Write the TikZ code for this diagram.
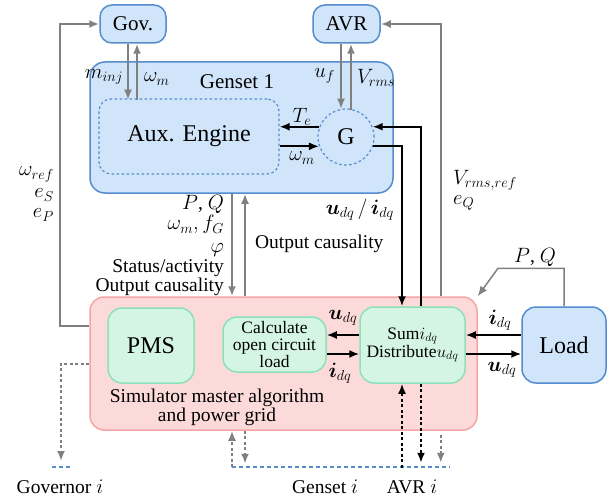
\documentclass[tikz,border=0pt]{standalone}
\usepackage{amsmath}
\usepackage{fontspec}
\setmainfont{Liberation Serif}
\usetikzlibrary{arrows.meta,calc}

\definecolor{genfill}{RGB}{208,228,250}
\definecolor{genedge}{RGB}{85,140,205}
\definecolor{simfill}{RGB}{253,218,218}
\definecolor{simedge}{RGB}{245,165,165}
\definecolor{algfill}{RGB}{212,245,228}
\definecolor{algedge}{RGB}{140,225,185}
\definecolor{sigray}{RGB}{128,128,128}

\newcommand{\bigfnt}{\fontsize{24}{26}\selectfont}
\newcommand{\boxfnt}{\fontsize{21}{23}\selectfont}
\newcommand{\lblfnt}{\fontsize{19.5}{19}\selectfont}
\newcommand{\stkfnt}{\fontsize{19.5}{19}\selectfont}
\newcommand{\smlfnt}{\fontsize{17.5}{17}\selectfont}

\tikzset{every picture/.style={line width=1.5pt}}
\tikzset{
  genbox/.style={draw=genedge, fill=genfill, rounded corners=12pt, inner sep=0pt},
  simbox/.style={draw=simedge, fill=simfill, rounded corners=14pt, inner sep=0pt},
  algbox/.style={draw=algedge, fill=algfill, rounded corners=12pt, inner sep=0pt, align=center},
  subpart/.style={draw=genedge, line width=1.2pt, dash pattern=on 2.5pt off 2.5pt, inner sep=0pt},
  grayarrow/.style={draw=sigray, line width=2pt, -{Latex[length=10pt,width=8pt]}},
  blackarrow/.style={draw=black, line width=1.8pt, -{Latex[length=10pt,width=8pt]}},
  graydots/.style={grayarrow, dash pattern=on 3pt off 2.5pt},
  blackdots/.style={blackarrow, dash pattern=on 3pt off 2.5pt},
  fmuline/.style={draw=genedge, line width=1.2pt, dash pattern=on 4pt off 3pt}
}

\begin{document}
\begin{tikzpicture}[x=1pt,y=1pt,yscale=-1,xscale=1]
	\useasboundingbox (0,0) rectangle (612,500);

	%Shape: Rounded Rect [Genset 1]
	\node[genbox, rounded corners=15pt, minimum width=303pt, minimum height=131pt] (genset) at (241.5,127.5) {};
	%Shape: Rounded Rect [Simulator]
	\node[simbox, minimum width=387pt, minimum height=133pt] (pink) at (283.5,363.5) {};
	%Shape: Rounded Rect [Gov.]
	\node[genbox, minimum width=66pt, minimum height=38pt, font=\boxfnt] (gov) at (133,24) {Gov.};
	%Shape: Rounded Rect [AVR]
	\node[genbox, minimum width=67pt, minimum height=38pt, font=\boxfnt] (avr) at (346.5,24) {AVR};
	%Shape: Rounded Rect [Aux. Engine]
	\node[subpart, rounded corners=12pt, minimum width=180pt, minimum height=75pt, font=\bigfnt] (aux) at (189,136.5) {Aux. Engine};
	%Shape: Circle [G]
	\node[subpart, circle, minimum size=56pt, font=\bigfnt] (g) at (346,137) {G};
	%Shape: Rounded Rect [PMS]
	\node[algbox, rounded corners=14pt, minimum width=86pt, minimum height=75pt, font=\bigfnt] (pms) at (151,345.5) {PMS};
	%Shape: Rounded Rect [open circuit load]
	\node[algbox, rounded corners=14pt, minimum width=103pt, minimum height=55pt, font=\smlfnt] (calc) at (274.5,344.5) {Calculate\\open circuit\\load};
	%Shape: Rounded Rect [Sum / Distribute]
	\node[algbox, rounded corners=14pt, minimum width=105pt, minimum height=76pt, font=\smlfnt] (sum) at (412.5,345) {Sum$i_{dq}$\\Distribute$u_{dq}$};
	%Shape: Rounded Rect [Load]
	\node[genbox, rounded corners=14pt, minimum width=84pt, minimum height=76pt, font=\bigfnt] (load) at (564,345) {Load};

	%Straight Lines [Gov. <-> Aux. Engine]
	\draw[grayarrow] ($(gov.south)+(-5,0)$) -- ++(0,56);
	\draw[grayarrow] ($(gov.south)+(4,56)$) -- ($(gov.south)+(4,0)$);
	%Straight Lines [AVR <-> G]
	\draw[grayarrow] ($(avr.south)+(-5.5,0)$) -- ++(0,65);
	\draw[grayarrow] ($(avr.south)+(4.5,66)$) -- ($(avr.south)+(4.5,0)$);
	%Straight Lines [G <-> Aux. Engine]
	\draw[blackarrow] (g.159) -- (g.159 -| aux.east);
	\draw[blackarrow] (aux.east |- g.199) -- (g.199);
	%Straight Lines [G <-> Sum]
	\draw[blackarrow] ($(sum.north)+(8.5,0)$) |- (g.21);
	\draw[blackarrow] (g.-19) -| ($(sum.north)+(-10.5,0)$);
	%Straight Lines [references]
	\draw[grayarrow] ($(pink.north east)+(-37,0)$) |- (avr.east);
	\draw[grayarrow] ($(pink.west)+(0,-37.5)$) -- ++(-29,0) |- (gov.west);
	%Straight Lines [Genset <-> Simulator]
	\draw[grayarrow] ($(genset.south)+(-9.5,0)$) -- ($(pink.north)+(-51.5,0)$);
	\draw[grayarrow] ($(pink.north)+(-38.5,0)$) -- ($(genset.south)+(3.5,0)$);
	%Straight Lines [Calculate <-> Sum]
	\draw[blackarrow] ($(sum.west)+(0,-10)$) -- ($(calc.east)+(0,-9.5)$);
	\draw[blackarrow] ($(calc.east)+(0,9.5)$) -- ($(sum.west)+(0,9)$);
	%Straight Lines [Load <-> Sum]
	\draw[blackarrow] ($(load.west)+(0,-10)$) -- ($(sum.east)+(0,-10)$);
	\draw[blackarrow] ($(sum.east)+(0,9)$) -- ($(load.west)+(0,9)$);
	%Straight Lines [P, Q of load]
	\draw[grayarrow, line width=1.5pt] (load.north) -- ++(0,-38) -- ++(-66,0) -- (pink.north east);

	%Dashed Lines [other units]
	\coordinate (govi) at (61,461);
	\coordinate (gsi) at (232,467);
	\draw[fmuline] (52,467) -- (70,467);
	\draw[fmuline] (gsi) -- (450,467);
	\draw[graydots] (pink.west) -| (govi);
	\draw[graydots] (gsi) -- (gsi |- pink.south);
	\draw[graydots] ($(pink.south)+(-38.5,0)$) -- ++(0,33);
	\draw[blackdots] ($(sum.south)+(-10.5,84)$) -- ($(sum.south)+(-10.5,0)$);
	\draw[blackdots] ($(sum.south)+(8.5,0)$) -- ++(0,79);
	\draw[graydots] ($(pink.south east)+(-37,4)$) -- ++(0,28);

	% Text Node
	\node[font=\boxfnt] (genlbl) at (237,82) {Genset 1};
	% Text Node
	\node[font=\lblfnt, align=center] (simlbl) at (217,407) {Simulator master algorithm\\and power grid};
	% Text Node
	\node[font=\lblfnt, anchor=east] (minj) at (127,77) {$m_{inj}$};
	% Text Node
	\node[font=\lblfnt, anchor=west] (wgov) at (140,79) {$\omega_m$};
	% Text Node
	\node[font=\lblfnt, anchor=east] (uf) at (339,76) {$u_f$};
	% Text Node
	\node[font=\lblfnt, anchor=west] (vrms) at (353,78) {$V_{rms}$};
	% Text Node
	\node[font=\lblfnt] (te) at (302,117) {$T_e$};
	% Text Node
	\node[font=\lblfnt] (wg) at (302,158) {$\omega_m$};
	% Text Node
	\node[font=\stkfnt, anchor=east, align=right] (govref) at (58,194) {$\omega_{ref}$\\[3pt]$e_S$\\[1pt]$e_P$};
	% Text Node
	\node[font=\stkfnt, anchor=west, align=left] (avrref) at (449,190) {$V_{rms,ref}$\\[1pt]$e_Q$};
	% Text Node
	\node[font=\lblfnt, anchor=east] (udqidq) at (398,210) {$\boldsymbol{u}_{dq}\,/\,\boldsymbol{i}_{dq}$};
	% Text Node
	\node[font=\stkfnt, anchor=east, align=right] (outs) at (228,246) {$P$, $Q$\\[1pt]$\omega_m, f_G$\\[4pt]$\varphi$\\[1pt]Status/activity\\Output causality};
	% Text Node
	\node[font=\lblfnt, anchor=west] (ins) at (251,244) {Output causality};
	% Text Node
	\node[font=\lblfnt] (ucalc) at (343,318) {$\boldsymbol{u}_{dq}$};
	% Text Node
	\node[font=\lblfnt] (icalc) at (340,373) {$\boldsymbol{i}_{dq}$};
	% Text Node
	\node[font=\lblfnt] (iload) at (500,320) {$\boldsymbol{i}_{dq}$};
	% Text Node
	\node[font=\lblfnt] (uload) at (502,370) {$\boldsymbol{u}_{dq}$};
	% Text Node
	\node[font=\lblfnt] (pqload) at (535,257) {$P$, $Q$};
	% Text Node
	\node[font=\lblfnt] (govilbl) at (60,487) {Governor $i$};
	% Text Node
	\node[font=\lblfnt] (gsilbl) at (325,487) {Genset $i$};
	% Text Node
	\node[font=\lblfnt] (avrilbl) at (412,487) {AVR $i$};

\end{tikzpicture}
\end{document}
